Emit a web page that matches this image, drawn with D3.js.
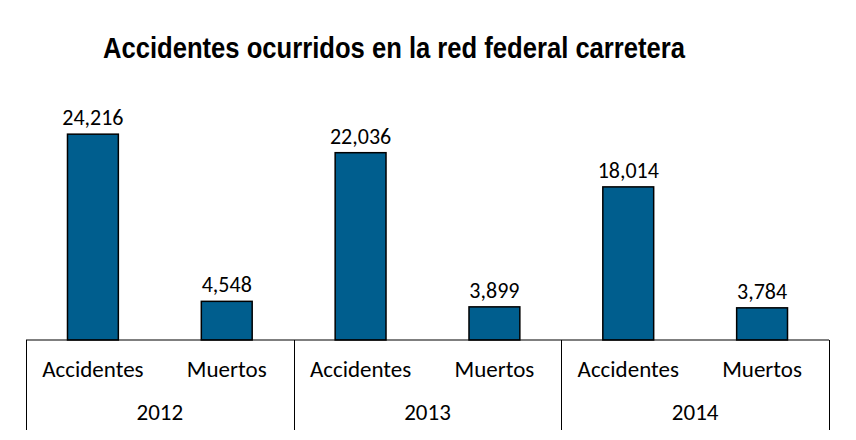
<!DOCTYPE html>
<html>
<head>
<meta charset="utf-8">
<script src="https://cdn.jsdelivr.net/npm/d3@7"></script>
<style>
  body { margin: 0; background: #fff; }
  svg text { font-family: Carlito, Calibri, "Open Sans", "Liberation Sans", sans-serif; }
</style>
</head>
<body>
<div id="chart"></div>
<script>
// data
let years = ["2012", "2013", "2014"];
let kinds = ["Accidentes", "Muertos"];
let accidentes = [24216, 22036, 18014];
let muertos = [4548, 3899, 3784];

let width = 856, height = 440;
let margin = { top: 85, left: 26, right: 27, bottom: 100 };
let baseY = 340;

let svg = d3.select("#chart").append("svg")
    .attr("width", width)
    .attr("height", height);

// flat list of bars
let rows = [];
years.forEach(function(y, i) {
    rows.push({ year: y, kind: kinds[0], value: accidentes[i] });
    rows.push({ year: y, kind: kinds[1], value: muertos[i] });
});

let x0 = d3.scaleBand()
    .domain(years)
    .range([margin.left, width - margin.right]);

let x1 = d3.scaleBand()
    .domain(kinds)
    .range([0, x0.bandwidth()])
    .paddingInner(0.62)
    .paddingOuter(0.31);

let y = d3.scaleLinear()
    .domain([0, 30000])
    .range([baseY, margin.top]);

let fmt = d3.format(",");

// Title
svg.append("text")
    .attr("x", 394)
    .attr("y", 58)
    .attr("text-anchor", "middle")
    .style("font-family", "'Liberation Sans Narrow', 'Arial Narrow', 'Liberation Sans', sans-serif")
    .style("font-weight", "bold")
    .style("font-size", "30px")
    .attr("textLength", 582)
    .attr("lengthAdjust", "spacingAndGlyphs")
    .text("Accidentes ocurridos en la red federal carretera");

// Bars
svg.selectAll("rect.bar")
    .data(rows)
    .enter().append("rect")
    .attr("class", "bar")
    .attr("x", d => x0(d.year) + x1(d.kind))
    .attr("y", d => y(d.value))
    .attr("width", x1.bandwidth())
    .attr("height", d => baseY - y(d.value))
    .attr("fill", "#005e8e")
    .attr("stroke", "#000")
    .attr("stroke-width", 1.5);

// Value labels
svg.selectAll("text.val")
    .data(rows)
    .enter().append("text")
    .attr("class", "val")
    .attr("x", d => x0(d.year) + x1(d.kind) + x1.bandwidth() / 2)
    .attr("y", d => y(d.value) - 9)
    .attr("text-anchor", "middle")
    .style("font-size", "22px")
    .attr("fill", "#000")
    .text(d => fmt(d.value));

// Axis line
svg.append("line")
    .attr("x1", margin.left)
    .attr("x2", width - margin.right)
    .attr("y1", baseY)
    .attr("y2", baseY)
    .attr("stroke", "#000")
    .attr("stroke-width", 1.2);

// Group separators
let edges = years.map(d => x0(d)).concat([x0(years[years.length - 1]) + x0.bandwidth()]);
svg.selectAll("line.sep")
    .data(edges)
    .enter().append("line")
    .attr("class", "sep")
    .attr("x1", d => Math.round(d) + 0.5)
    .attr("x2", d => Math.round(d) + 0.5)
    .attr("y1", baseY)
    .attr("y2", 430)
    .attr("stroke", "#000")
    .attr("stroke-width", 1);

// Category labels
svg.selectAll("text.cat")
    .data(rows)
    .enter().append("text")
    .attr("class", "cat")
    .attr("x", d => x0(d.year) + x1(d.kind) + x1.bandwidth() / 2)
    .attr("y", 377)
    .attr("text-anchor", "middle")
    .style("font-size", "23px")
    .text(d => d.kind);

// Year labels
svg.selectAll("text.year")
    .data(years)
    .enter().append("text")
    .attr("class", "year")
    .attr("x", d => x0(d) + x0.bandwidth() / 2)
    .attr("y", 420)
    .attr("text-anchor", "middle")
    .style("font-size", "23px")
    .text(d => d);
</script>
</body>
</html>
